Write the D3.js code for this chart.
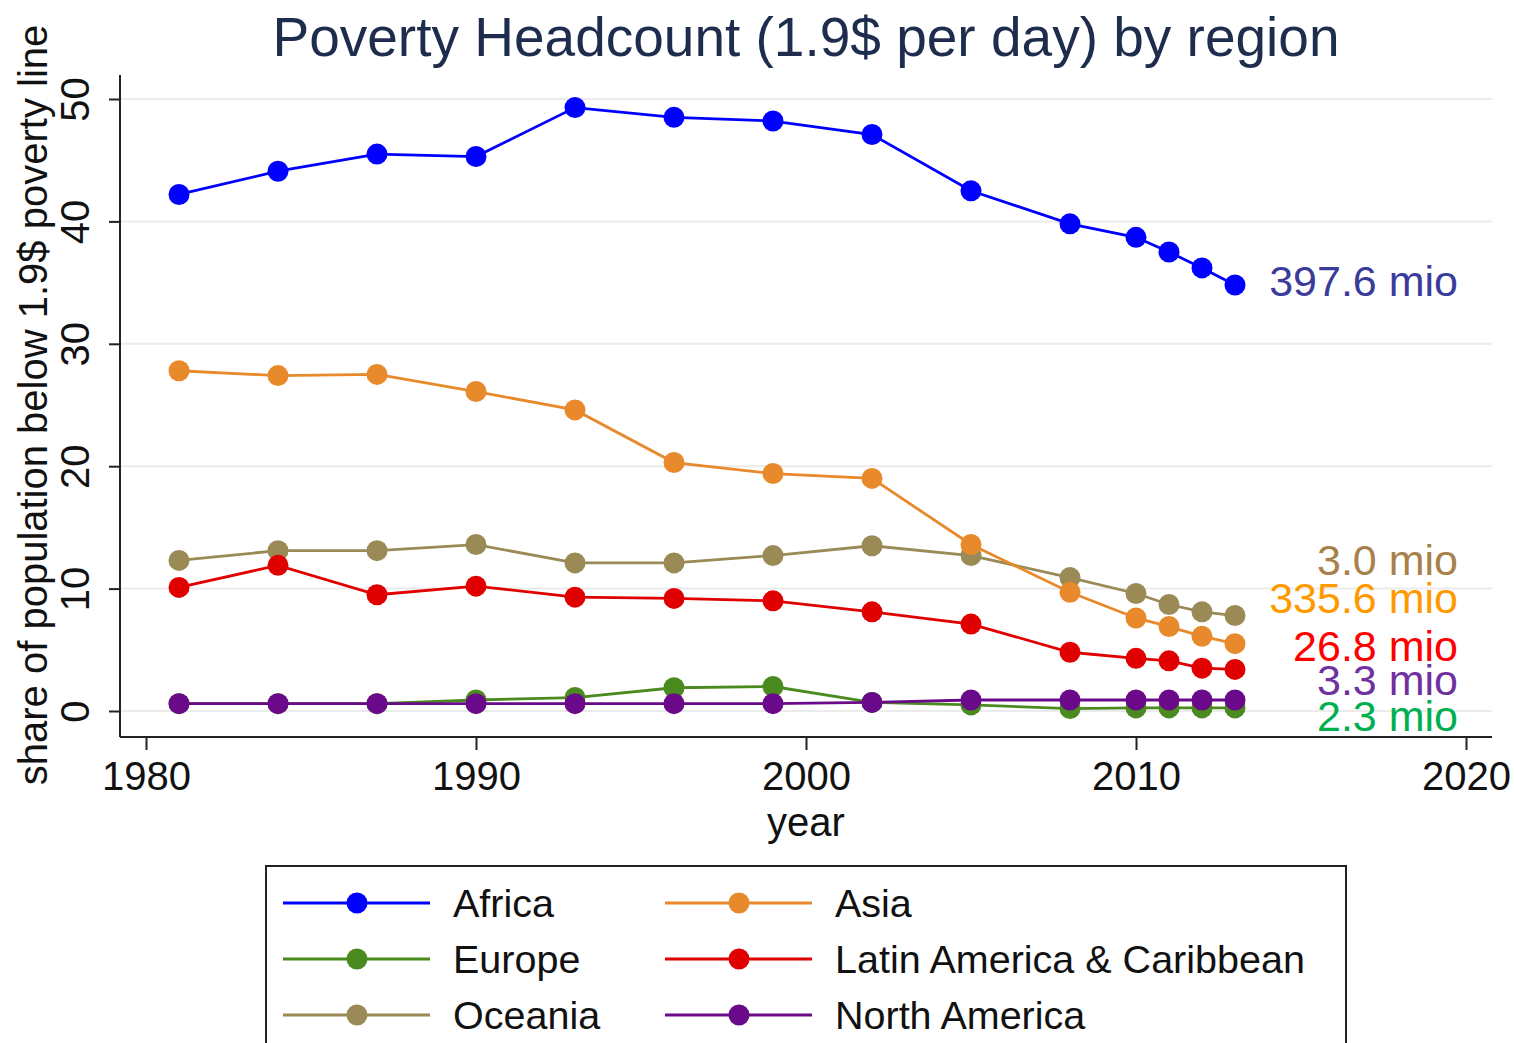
<!DOCTYPE html>
<html>
<head>
<meta charset="utf-8">
<script src="https://cdn.jsdelivr.net/npm/d3@7"></script>
<style>
  body { margin: 0; background: #fff; }
  text { font-family: "Liberation Sans", Arial, sans-serif; }
</style>
</head>
<body>
<div id="chart"></div>
<script>
// survey years
const years = [1981, 1984, 1987, 1990, 1993, 1996, 1999, 2002, 2005, 2008, 2010, 2011, 2012, 2013];

// share of population below 1.9$ per day, by region
const africa = [42.2, 44.1, 45.5, 45.3, 49.3, 48.5, 48.2, 47.1, 42.5, 39.8, 38.7, 37.5, 36.2, 34.8];
const asia = [27.8, 27.4, 27.5, 26.1, 24.6, 20.3, 19.4, 19.0, 13.6, 9.7, 7.6, 6.9, 6.1, 5.5];
const europe = [0.6, 0.6, 0.6, 0.9, 1.1, 1.9, 2.0, 0.7, 0.5, 0.2, 0.25, 0.25, 0.25, 0.25];
const latam = [10.1, 11.9, 9.5, 10.2, 9.3, 9.2, 9.0, 8.1, 7.1, 4.8, 4.3, 4.1, 3.5, 3.4];
const oceania = [12.3, 13.1, 13.1, 13.6, 12.1, 12.1, 12.7, 13.5, 12.7, 10.9, 9.6, 8.7, 8.1, 7.8];
const northAmerica = [0.6, 0.6, 0.6, 0.6, 0.6, 0.6, 0.6, 0.7, 0.9, 0.9, 0.9, 0.9, 0.9, 0.9];

// number of poor in the last year
const regionNames = ['Africa', 'Asia', 'Europe', 'Latin America & Caribbean', 'Oceania', 'North America'];
const mioLabels = ['397.6 mio', '335.6 mio', '2.3 mio', '26.8 mio', '3.0 mio', '3.3 mio'];

const xTicks = [1980, 1990, 2000, 2010, 2020];
const yTicks = [0, 10, 20, 30, 40, 50];

const width = 1514;
const height = 1043;
const margin = { top: 75, right: 22, bottom: 306, left: 120 };
const chartWidth = width - margin.left - margin.right;
const chartHeight = height - margin.top - margin.bottom;

const lineColors = ['#0000ff', '#e8892b', '#4a8a1f', '#e00000', '#9a8a55', '#6a0a8a'];
const labelColors = ['#3b3b9c', '#ff9900', '#00b050', '#ff0000', '#a8804a', '#7030a0'];
// vertical spot of each annotation, in data units
const labelAt = [35.1, 9.2, -0.4, 5.3, 12.3, 2.5];

const series = [africa, asia, europe, latam, oceania, northAmerica].map((vals, i) => ({
  name: regionNames[i],
  label: mioLabels[i],
  values: vals.map((v, j) => ({ year: years[j], value: v })),
  color: lineColors[i],
  labelColor: labelColors[i],
  labelAt: labelAt[i]
}));

const svg = d3.select('#chart').append('svg').attr('width', width).attr('height', height);

const x = d3.scaleLinear().domain([1980, 2020]).range([26, 1346]);
const y = d3.scaleLinear().domain([0, 50]).range([636, 24]);

const chart = svg.append('g').attr('transform', `translate(${margin.left}, ${margin.top})`);

// grid
chart
  .selectAll('.grid')
  .data(yTicks)
  .enter()
  .append('line')
  .attr('x1', 0)
  .attr('x2', chartWidth)
  .attr('y1', (d) => y(d))
  .attr('y2', (d) => y(d))
  .attr('stroke', '#ebebeb')
  .attr('stroke-width', 2);

// axes
const xAxis = chart
  .append('g')
  .attr('transform', `translate(0, ${chartHeight})`)
  .call(d3.axisBottom(x).tickValues(xTicks).tickFormat(d3.format('d')).tickSize(13).tickSizeOuter(0));
xAxis.select('.domain').attr('d', `M0,0H${chartWidth}`).attr('stroke', '#222').attr('stroke-width', 2);
xAxis.selectAll('.tick line').attr('stroke', '#222').attr('stroke-width', 2);
xAxis.selectAll('.tick text').attr('font-size', 40).attr('fill', '#111').attr('y', 25).attr('dy', '0.71em');

const yAxis = chart
  .append('g')
  .call(d3.axisLeft(y).tickValues(yTicks).tickSize(11).tickSizeOuter(0));
yAxis.select('.domain').attr('d', `M0,0V${chartHeight}`).attr('stroke', '#222').attr('stroke-width', 2);
yAxis.selectAll('.tick line').attr('stroke', '#222').attr('stroke-width', 2);
yAxis
  .selectAll('.tick text')
  .attr('font-size', 40)
  .attr('fill', '#111')
  .attr('x', 0)
  .attr('dy', 0)
  .attr('text-anchor', 'middle')
  .attr('transform', 'translate(-31, 0) rotate(-90)');

// axis titles
svg
  .append('text')
  .text('year')
  .attr('x', margin.left + x(2000))
  .attr('y', 836)
  .attr('text-anchor', 'middle')
  .attr('font-size', 40)
  .attr('fill', '#111');

svg
  .append('text')
  .text('share of population below 1.9$ poverty line')
  .attr('transform', `translate(47, 405) rotate(-90)`)
  .attr('text-anchor', 'middle')
  .attr('font-size', 40)
  .attr('fill', '#111');

// title
svg
  .append('text')
  .text('Poverty Headcount (1.9$ per day) by region')
  .attr('x', 806)
  .attr('y', 56)
  .attr('text-anchor', 'middle')
  .attr('font-size', 55)
  .attr('fill', '#1e2d4e');

// lines and markers (Africa drawn last, on top)
const line = d3
  .line()
  .x((d) => x(d.year))
  .y((d) => y(d.value));

const drawOrder = [4, 3, 2, 5, 1, 0].map((i) => series[i]);

drawOrder.forEach((s) => {
  const g = chart.append('g');
  g.append('path')
    .datum(s.values)
    .attr('d', line)
    .attr('fill', 'none')
    .attr('stroke', s.color)
    .attr('stroke-width', 2.8);
  g.selectAll('circle')
    .data(s.values)
    .enter()
    .append('circle')
    .attr('cx', (d) => x(d.year))
    .attr('cy', (d) => y(d.value))
    .attr('r', 10.5)
    .attr('fill', s.color);
});

// end-of-line annotations
chart
  .selectAll('.mio')
  .data(series)
  .enter()
  .append('text')
  .attr('class', 'mio')
  .text((d) => d.label)
  .attr('x', 1338)
  .attr('y', (d) => y(d.labelAt))
  .attr('dy', '0.35em')
  .attr('text-anchor', 'end')
  .attr('font-size', 43)
  .attr('fill', (d) => d.labelColor);

// legend
const legend = svg.append('g').attr('transform', 'translate(266, 866)');
legend
  .append('rect')
  .attr('x', 0)
  .attr('y', 0)
  .attr('width', 1080)
  .attr('height', 200)
  .attr('fill', '#fff')
  .attr('stroke', '#222')
  .attr('stroke-width', 2);

const item = legend
  .selectAll('.item')
  .data(series)
  .enter()
  .append('g')
  .attr('transform', (d, i) => `translate(${i % 2 === 0 ? 17 : 399}, ${37 + Math.floor(i / 2) * 56})`);

item
  .append('line')
  .attr('x1', 0)
  .attr('x2', 147)
  .attr('stroke', (d) => d.color)
  .attr('stroke-width', 2.8);
item
  .append('circle')
  .attr('cx', 74)
  .attr('r', 10.5)
  .attr('fill', (d) => d.color);
item
  .append('text')
  .text((d) => d.name)
  .attr('x', 170)
  .attr('dy', '0.35em')
  .attr('font-size', 39.5)
  .attr('fill', '#111');
</script>
</body>
</html>
